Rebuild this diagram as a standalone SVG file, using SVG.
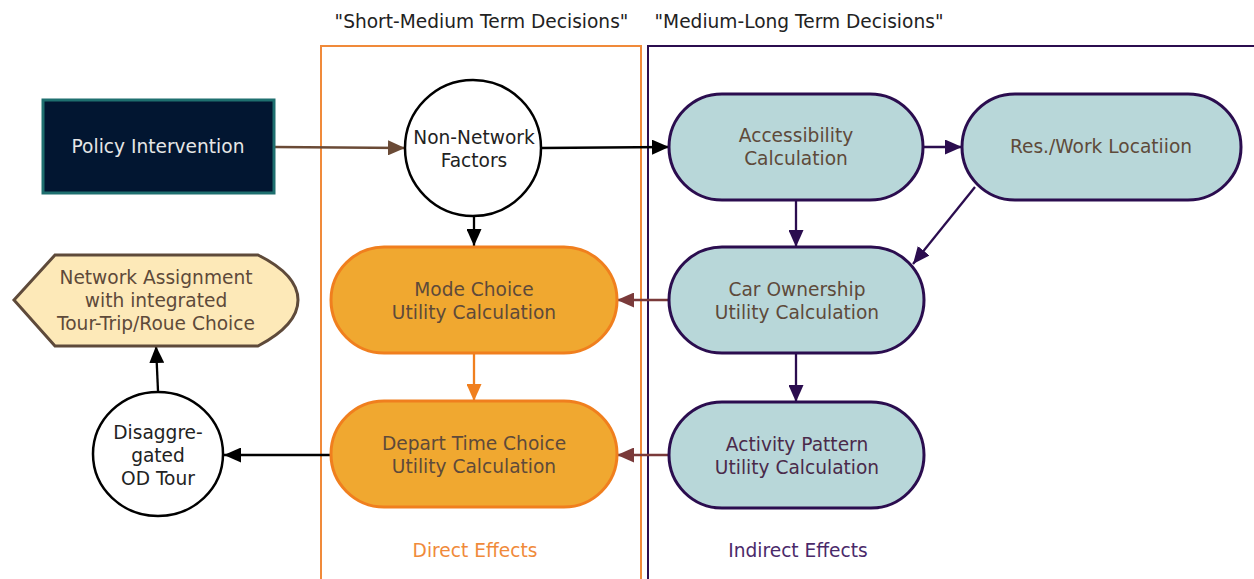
<svg xmlns="http://www.w3.org/2000/svg" width="1254" height="579" viewBox="0 0 1254 579">
  <style>
    text { font-family: "DejaVu Sans", "Liberation Sans", sans-serif; font-size: 18.6px; text-anchor: middle; }
    .title { fill: #222; }
    .teal { fill: #b8d7d9; stroke: #2b0d4f; stroke-width: 3; }
    .orange { fill: #f0a830; stroke: #f07f1e; stroke-width: 3; }
    .circle { fill: #fff; stroke: #000; stroke-width: 2.5; }
    .tb { fill: #5e4a3a; }
    .tp { fill: #4a2a4a; }
    .edge { fill: none; stroke-width: 2.3; }
  </style>
  <defs>
    <marker id="ah-black" viewBox="0 0 17 15" refX="17" refY="7.5" markerWidth="17" markerHeight="15" markerUnits="userSpaceOnUse" orient="auto">
      <path d="M0,0 L17,7.5 L0,15 Z" fill="#000"/>
    </marker>
    <marker id="ah-brown" viewBox="0 0 17 15" refX="17" refY="7.5" markerWidth="17" markerHeight="15" markerUnits="userSpaceOnUse" orient="auto">
      <path d="M0,0 L17,7.5 L0,15 Z" fill="#6a4a36"/>
    </marker>
    <marker id="ah-purple" viewBox="0 0 17 15" refX="17" refY="7.5" markerWidth="17" markerHeight="15" markerUnits="userSpaceOnUse" orient="auto">
      <path d="M0,0 L17,7.5 L0,15 Z" fill="#2b0d4f"/>
    </marker>
    <marker id="ah-red" viewBox="0 0 17 15" refX="17" refY="7.5" markerWidth="17" markerHeight="15" markerUnits="userSpaceOnUse" orient="auto">
      <path d="M0,0 L17,7.5 L0,15 Z" fill="#7a3a3a"/>
    </marker>
    <marker id="ah-orange" viewBox="0 0 17 15" refX="17" refY="7.5" markerWidth="17" markerHeight="15" markerUnits="userSpaceOnUse" orient="auto">
      <path d="M0,0 L17,7.5 L0,15 Z" fill="#f07f1e"/>
    </marker>
  </defs>

  <rect width="1254" height="579" fill="#fff"/>

  <!-- clusters -->
  <g id="cluster-short">
    <rect x="321" y="46" width="320" height="560" fill="none" stroke="#f08a3a" stroke-width="2"/>
    <text class="title" x="481.5" y="27.5">"Short-Medium Term Decisions"</text>
    <text x="475" y="556.5" fill="#f08a3a">Direct Effects</text>
  </g>
  <g id="cluster-long">
    <rect x="648" y="46" width="640" height="560" fill="none" stroke="#2b0d4f" stroke-width="2"/>
    <text class="title" x="799" y="27.5">"Medium-Long Term Decisions"</text>
    <text x="798" y="556.5" fill="#4a2a6a">Indirect Effects</text>
  </g>

  <!-- connectors -->
  <g id="connectors">
    <path class="edge" d="M274,147 L405,148" stroke="#6a4a36" marker-end="url(#ah-brown)"/>
    <path class="edge" d="M541,148 L669,147" stroke="#000" marker-end="url(#ah-black)"/>
    <path class="edge" d="M474,215 L474,246" stroke="#000" marker-end="url(#ah-black)"/>
    <path class="edge" d="M923,147 L962,147" stroke="#2b0d4f" marker-end="url(#ah-purple)"/>
    <path class="edge" d="M796,200 L796,247" stroke="#2b0d4f" marker-end="url(#ah-purple)"/>
    <path class="edge" d="M975,187 L913,264" stroke="#2b0d4f" marker-end="url(#ah-purple)"/>
    <path class="edge" d="M669,300 L617,300" stroke="#7a3a3a" marker-end="url(#ah-red)"/>
    <path class="edge" d="M796,353 L796,402" stroke="#2b0d4f" marker-end="url(#ah-purple)"/>
    <path class="edge" d="M474,353 L474,401" stroke="#f07f1e" marker-end="url(#ah-orange)"/>
    <path class="edge" d="M669,455 L617,455" stroke="#7a3a3a" marker-end="url(#ah-red)"/>
    <path class="edge" d="M331,455 L224,455" stroke="#000" marker-end="url(#ah-black)"/>
    <path class="edge" d="M158,391 L156,346" stroke="#000" marker-end="url(#ah-black)"/>
  </g>

  <!-- nodes -->
  <g id="policy">
    <rect x="43" y="100" width="231" height="93" fill="#021631" stroke="#1e6f6f" stroke-width="3"/>
    <text x="158" y="153" fill="#e6e6e6">Policy Intervention</text>
  </g>
  <g id="nonnetwork">
    <circle class="circle" cx="473" cy="148" r="68"/>
    <text x="474" y="143.5" fill="#222">Non-Network</text>
    <text x="474" y="166.5" fill="#222">Factors</text>
  </g>
  <g id="accessibility">
    <rect class="teal" x="669" y="94" width="254" height="106" rx="53"/>
    <text class="tb" x="796" y="141.5">Accessibility</text>
    <text class="tb" x="796" y="164.5">Calculation</text>
  </g>
  <g id="reswork">
    <rect class="teal" x="962" y="94" width="279" height="106" rx="53"/>
    <text class="tb" x="1101" y="152.5">Res./Work Locatiion</text>
  </g>
  <g id="carownership">
    <rect class="teal" x="669" y="247" width="255" height="106" rx="53"/>
    <text class="tb" x="797" y="295.5">Car Ownership</text>
    <text class="tb" x="797" y="318.5">Utility Calculation</text>
  </g>
  <g id="activity">
    <rect class="teal" x="669" y="402" width="255" height="106" rx="53"/>
    <text class="tp" x="797" y="450.5">Activity Pattern</text>
    <text class="tp" x="797" y="473.5">Utility Calculation</text>
  </g>
  <g id="modechoice">
    <rect class="orange" x="331" y="247" width="286" height="106" rx="53"/>
    <text class="tb" x="474" y="295.5">Mode Choice</text>
    <text class="tb" x="474" y="318.5">Utility Calculation</text>
  </g>
  <g id="departtime">
    <rect class="orange" x="331" y="401" width="286" height="106" rx="53"/>
    <text class="tb" x="474" y="449.5">Depart Time Choice</text>
    <text class="tb" x="474" y="472.5">Utility Calculation</text>
  </g>
  <g id="assignment">
    <path d="M14,300 L55,255 L258,255 Q298,275 298,300 Q298,325 258,346 L55,346 Z" fill="#fde9b8" stroke="#5e4a3a" stroke-width="3"/>
    <text class="tb" x="156" y="283.5">Network Assignment</text>
    <text class="tb" x="156" y="306.5">with integrated</text>
    <text class="tb" x="156" y="329.5">Tour-Trip/Roue Choice</text>
  </g>
  <g id="disaggregated">
    <ellipse class="circle" cx="158" cy="454" rx="65" ry="62"/>
    <text x="158" y="438.5" fill="#222">Disaggre-</text>
    <text x="158" y="461.5" fill="#222">gated</text>
    <text x="158" y="484.5" fill="#222">OD Tour</text>
  </g>
</svg>
